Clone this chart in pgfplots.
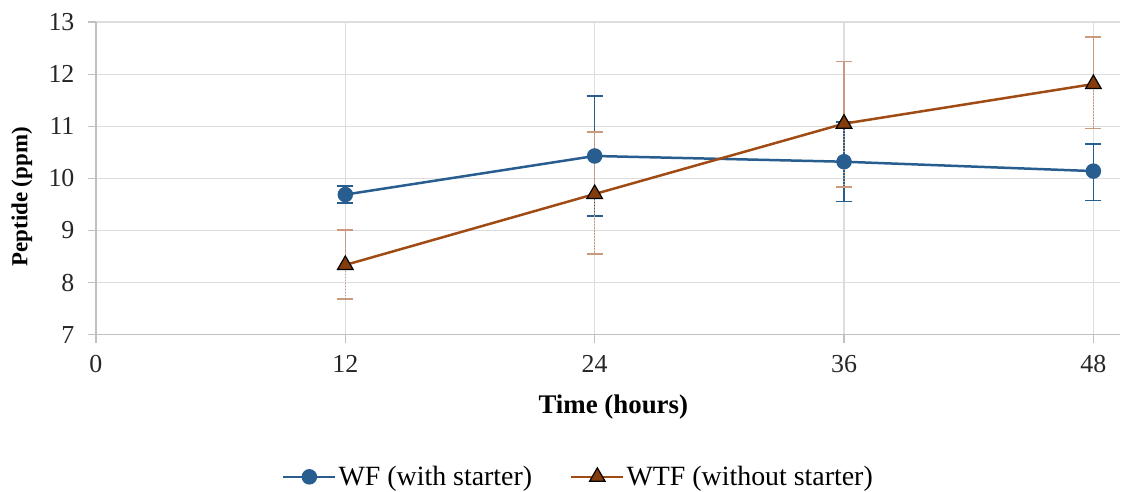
\documentclass[border=0pt]{standalone}
\usepackage{fontspec}
\setmainfont{Liberation Serif}
\usepackage{pgfplots}
\pgfplotsset{compat=1.18}
\definecolor{wfblue}{HTML}{285E8F}
\definecolor{wtfbrown}{HTML}{A04B14}
\definecolor{wtfmark}{HTML}{843C0C}
\definecolor{wtferr}{HTML}{C99A7E}
\definecolor{gridgray}{HTML}{DDDDDD}
\definecolor{axgray}{HTML}{C0C0C0}
\pgfplotstableread{
x y ep em
12 9.69 0.17 0.16
24 10.43 1.15 1.15
36 10.32 0.76 0.76
48 10.14 0.52 0.56
}\wf
\pgfplotstableread{
x y ep em
12 8.34 0.67 0.65
24 9.70 1.19 1.15
36 11.05 1.19 1.21
48 11.81 0.90 0.85
}\wtf
\begin{document}
\begin{tikzpicture}
\begin{axis}[
 scale only axis, width=1025bp, height=313bp,
 xmin=0, xmax=49.3, ymin=7, ymax=13,
 xtick={0,12,24,36,48}, ytick={7,8,...,13},
 axis x line*=bottom, axis y line*=left,
 axis line style={axgray, line width=1.2bp, -},
 tick align=outside, major tick length=8bp,
 tick style={axgray, line width=1.2bp},
 grid=major, grid style={gridgray, line width=1.2bp},
 /pgf/number format/assume math mode=true,
 ticklabel style={font=\fontsize{26}{26}\selectfont, text=black!85},
 yticklabel style={xshift=-10bp},
 xticklabel style={yshift=-9bp},
 xlabel={\textbf{Time (hours)}}, ylabel={\textbf{Peptide (ppm)}},
 xlabel style={font=\fontsize{27}{27}\selectfont, at={(rel axis cs:0.505,-0.23)}, anchor=center},
 ylabel style={font=\fontsize{23}{23}\selectfont, at={(rel axis cs:-0.0722,0.441)}, anchor=center, rotate=0},
 clip=false,
 legend style={at={(rel axis cs:0.471,-0.454)}, anchor=center, draw=none, fill=none,
   legend columns=2, font=\fontsize{28}{28}\selectfont,
   /tikz/every even column/.append style={column sep=36bp}},
 legend image code/.code={\draw[mark repeat=2,mark phase=2] plot coordinates {(0bp,0bp)(26bp,0bp)(52bp,0bp)};},
]
% WF
\addplot[wfblue, line width=2.5bp, mark=*, mark size=6.5bp, mark options={fill=wfblue, draw=wfblue, solid},
  error bars/.cd, y dir=both, y explicit,
  error bar style={wfblue, line width=1.6bp, solid},
  error mark options={rotate=90, mark size=8bp, wfblue, line width=1.6bp}]
  table[x=x, y=y, y error plus=ep, y error minus=em] {\wf};
\addlegendentry{WF (with starter)}
% WTF error bars upper (solid)
\addplot[only marks, mark=none, wtferr, forget plot,
  error bars/.cd, y dir=plus, y explicit,
  error bar style={wtferr, line width=1.6bp, solid},
  error mark options={rotate=90, mark size=8bp, wtferr, line width=1.6bp}]
  table[x=x, y=y, y error plus=ep] {\wtf};
% WTF error bars lower (dotted)
\addplot[only marks, mark=none, wtferr, forget plot,
  error bars/.cd, y dir=minus, y explicit,
  error bar style={wtferr, line width=1.6bp, dash pattern=on 1.5bp off 1.5bp},
  error mark options={rotate=90, mark size=8bp, wtferr, line width=1.6bp, solid}]
  table[x=x, y=y, y error minus=em] {\wtf};
% WTF
\addplot[wtfbrown, line width=2.5bp, mark=triangle*, mark size=9bp, mark options={fill=wtfmark, draw=black, line width=1.2bp, solid}]
  table[x=x, y=y] {\wtf};
\addlegendentry{WTF (without starter)}
\end{axis}
\path ([shift={(-96bp,-155bp)}]current axis.south west) rectangle ([shift={(0bp,22bp)}]current axis.north east);
\end{tikzpicture}
\end{document}
